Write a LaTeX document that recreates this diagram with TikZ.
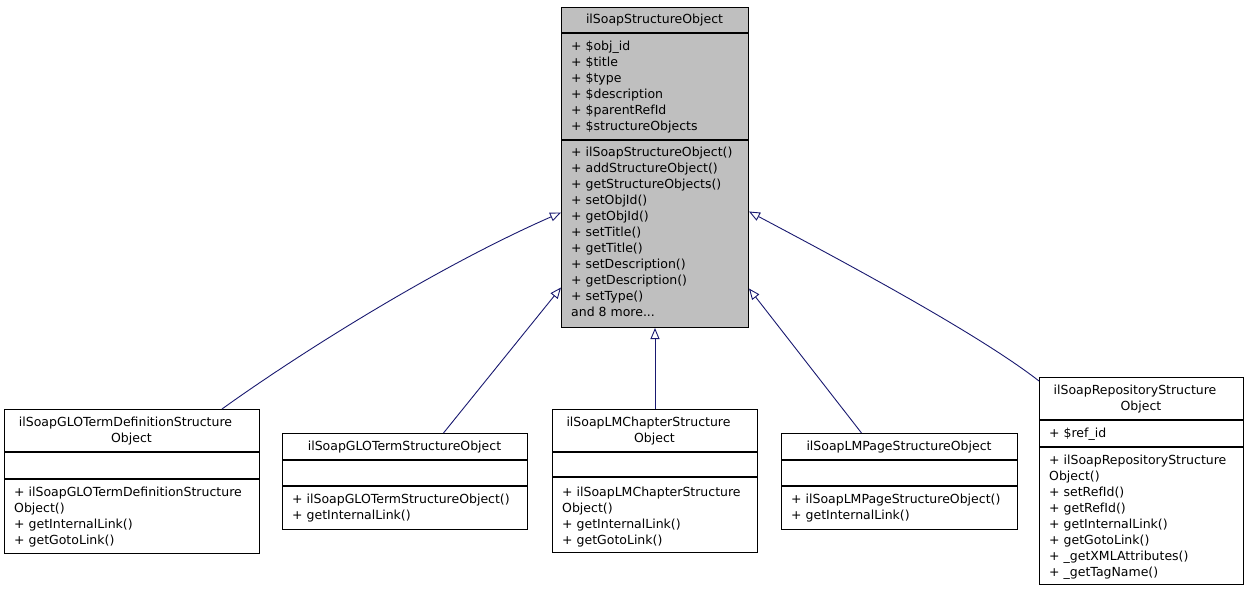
\documentclass[tikz,border=0pt]{standalone}
\usepackage{fontspec}
\setmainfont{DejaVu Sans}
\usetikzlibrary{arrows.meta}
\definecolor{cedge}{rgb}{0.098, 0.098, 0.439}
\definecolor{cbase}{rgb}{0.749, 0.749, 0.749}
\newcommand{\umlfont}{\fontsize{12.5}{16}\selectfont}

\begin{document}
\begin{tikzpicture}[x=1pt, y=-1pt,
    classbox/.style={draw=black, line width=1pt, inner sep=0pt, anchor=north west},
    basebox/.style={classbox, fill=cbase},
    sepline/.style={line width=1.2pt},
    classname/.style={inner sep=0pt, anchor=north, align=center, font=\umlfont},
    members/.style={inner sep=0pt, anchor=north west, align=left, font=\umlfont},
    inherit/.style={cedge, line width=0.9pt, {Triangle[open, length=11pt, width=9pt]}-}]

\useasboundingbox (0, 0) rectangle (1248, 592);

% base class
\node (base) [basebox, minimum width=187pt, minimum height=320pt] at (561, 7) {};
\draw [sepline] (base.west |- 0, 33) -- (base.east |- 0, 33);
\draw [sepline] (base.west |- 0, 140) -- (base.east |- 0, 140);
\node (base-name) [classname] at (654.5, 12.3) {\strut ilSoapStructureObject};
\node (base-attr) [members] at (571, 39.3) {\strut + \$obj\_id\\\strut + \$title\\\strut + \$type\\\strut + \$description\\\strut + \$parentRefId\\\strut + \$structureObjects};
\node (base-ops) [members] at (571, 145.3) {\strut + ilSoapStructureObject()\\\strut + addStructureObject()\\\strut + getStructureObjects()\\\strut + setObjId()\\\strut + getObjId()\\\strut + setTitle()\\\strut + getTitle()\\\strut + setDescription()\\\strut + getDescription()\\\strut + setType()\\\strut and 8 more...};

% derived classes
\node (glodef) [classbox, minimum width=255pt, minimum height=144pt] at (4, 409) {};
\draw [sepline] (glodef.west |- 0, 452) -- (glodef.east |- 0, 452);
\draw [sepline] (glodef.west |- 0, 479) -- (glodef.east |- 0, 479);
\node (glodef-name) [classname] at (131.5, 415.3) {\strut ilSoapGLOTermDefinitionStructure\rule{12pt}{0pt}\\\strut Object};
\node (glodef-ops) [members] at (14, 485.3) {\strut + ilSoapGLOTermDefinitionStructure\\\strut Object()\\\strut + getInternalLink()\\\strut + getGotoLink()};

\node (gloterm) [classbox, minimum width=245pt, minimum height=96pt] at (282, 433) {};
\draw [sepline] (gloterm.west |- 0, 460) -- (gloterm.east |- 0, 460);
\draw [sepline] (gloterm.west |- 0, 486) -- (gloterm.east |- 0, 486);
\node (gloterm-name) [classname] at (404.5, 439.3) {\strut ilSoapGLOTermStructureObject};
\node (gloterm-ops) [members] at (292, 492.3) {\strut + ilSoapGLOTermStructureObject()\\\strut + getInternalLink()};

\node (lmchapter) [classbox, minimum width=205pt, minimum height=143pt] at (552, 409) {};
\draw [sepline] (lmchapter.west |- 0, 452) -- (lmchapter.east |- 0, 452);
\draw [sepline] (lmchapter.west |- 0, 477) -- (lmchapter.east |- 0, 477);
\node (lmchapter-name) [classname] at (654.5, 415.3) {\strut ilSoapLMChapterStructure\rule{12pt}{0pt}\\\strut Object};
\node (lmchapter-ops) [members] at (562, 485.3) {\strut + ilSoapLMChapterStructure\\\strut Object()\\\strut + getInternalLink()\\\strut + getGotoLink()};

\node (lmpage) [classbox, minimum width=236pt, minimum height=96pt] at (781, 433) {};
\draw [sepline] (lmpage.west |- 0, 460) -- (lmpage.east |- 0, 460);
\draw [sepline] (lmpage.west |- 0, 486) -- (lmpage.east |- 0, 486);
\node (lmpage-name) [classname] at (899, 439.3) {\strut ilSoapLMPageStructureObject};
\node (lmpage-ops) [members] at (791, 492.3) {\strut + ilSoapLMPageStructureObject()\\\strut + getInternalLink()};

\node (repo) [classbox, minimum width=204pt, minimum height=207pt] at (1039, 377) {};
\draw [sepline] (repo.west |- 0, 420) -- (repo.east |- 0, 420);
\draw [sepline] (repo.west |- 0, 447) -- (repo.east |- 0, 447);
\node (repo-name) [classname] at (1141, 383.3) {\strut ilSoapRepositoryStructure\rule{12pt}{0pt}\\\strut Object};
\node (repo-attr) [members] at (1049, 426.3) {\strut + \$ref\_id};
\node (repo-ops) [members] at (1049, 453.3) {\strut + ilSoapRepositoryStructure\\\strut Object()\\\strut + setRefId()\\\strut + getRefId()\\\strut + getInternalLink()\\\strut + getGotoLink()\\\strut + \_getXMLAttributes()\\\strut + \_getTagName()};

% inheritance
\draw [inherit] ([yshift=-45pt]base.west) .. controls (430, 270) and (290, 360) .. ([xshift=90pt]glodef.north);
\draw [inherit] ([yshift=-120pt]base.west) -- ([xshift=38.5pt]gloterm.north);
\draw [inherit] (base.south) -- (lmchapter.north);
\draw [inherit] ([yshift=-121pt]base.east) -- ([xshift=-38pt]lmpage.north);
\draw [inherit] ([yshift=-44pt]base.east) .. controls (850, 265) and (980, 335) .. ([yshift=-4pt]repo.north west);

\end{tikzpicture}
\end{document}
